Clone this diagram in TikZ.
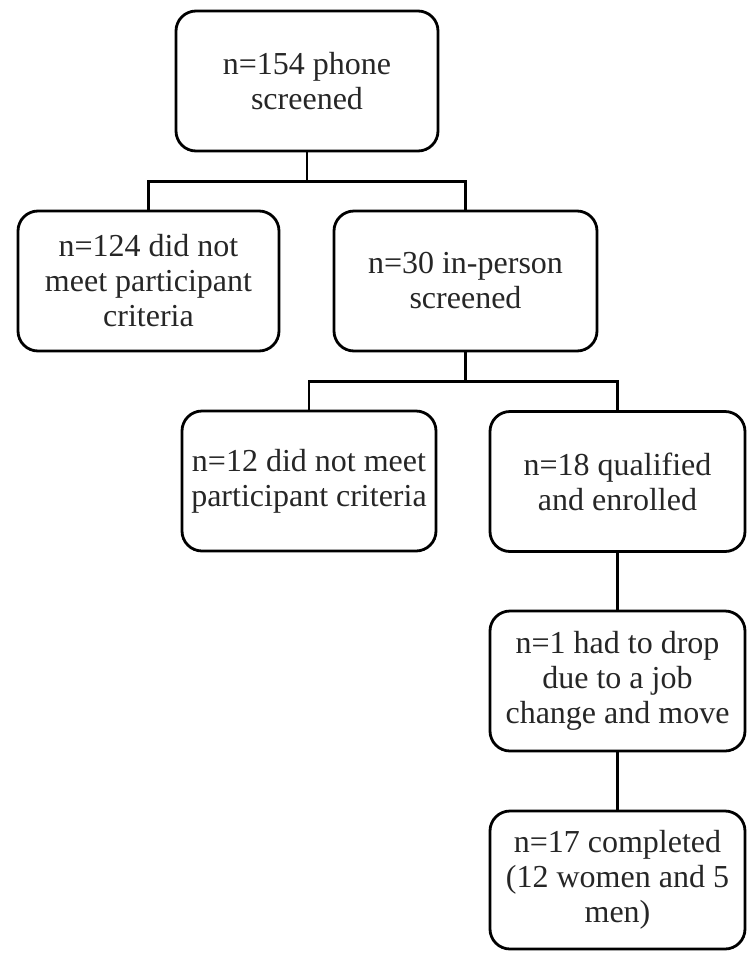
\documentclass[tikz,border=0pt]{standalone}
\usepackage{fontspec}
\setmainfont{Liberation Serif}
\begin{document}
\begin{tikzpicture}[x=1pt,y=-1pt,
  flowbox/.style={draw=black, line width=2.8pt, rounded corners=20pt, align=center,
    inner sep=0pt, font=\fontsize{32}{35}\selectfont, text=black!85},
  conn/.style={draw=black, line width=2.8pt}]
\useasboundingbox (0,0) rectangle (747,954);
\node[flowbox, minimum width=262pt, minimum height=140pt] (b1) at (307,81) {n=154 phone\\screened};
\node[flowbox, minimum width=261pt, minimum height=140pt] (b2) at (148.5,281) {n=124 did not\\meet participant\\criteria};
\node[flowbox, minimum width=263pt, minimum height=140pt] (b3) at (465.5,281) {n=30 in-person\\screened};
\node[flowbox, minimum width=254pt, minimum height=140pt] (b4) at (309,481) {n=12 did not meet\\participant criteria};
\node[flowbox, minimum width=255pt, minimum height=140pt] (b5) at (617.5,481.5) {n=18 qualified\\and enrolled};
\node[flowbox, minimum width=255pt, minimum height=140pt] (b6) at (617.5,681) {n=1 had to drop\\due to a job\\change and move};
\node[flowbox, minimum width=255pt, minimum height=138pt] (b7) at (617.5,880) {n=17 completed\\(12 women and 5\\men)};
\draw[conn] (b1.south) -- ++(0,30);
\draw[conn] (b2.north) -- ++(0,-28) -| (b3.north);
\draw[conn] (b3.south) -- ++(0,30);
\draw[conn] (b4.north) -- ++(0,-28) -| (b5.north);
\draw[conn] (b5.south) -- (b6.north);
\draw[conn] (b6.south) -- (b7.north);
\end{tikzpicture}
\end{document}
